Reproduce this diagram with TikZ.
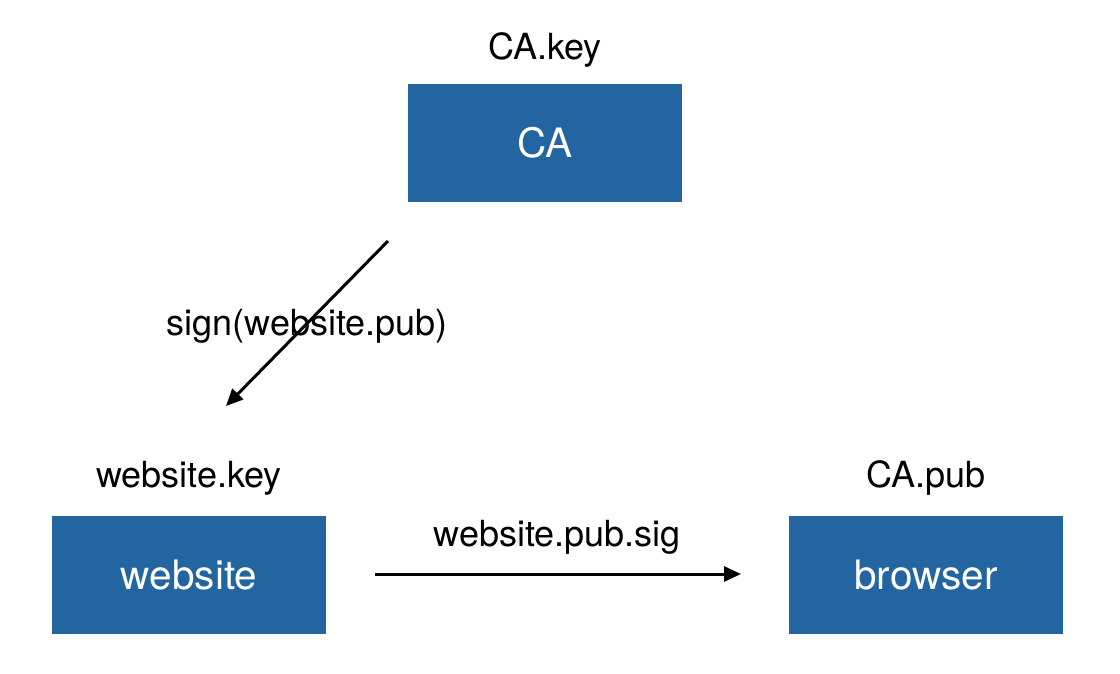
\documentclass[tikz,border=0pt]{standalone}
\usepackage{fontspec}
\setmainfont{TeX Gyre Heros}
\usepackage{tikz}
\usetikzlibrary{arrows.meta}
\definecolor{boxblue}{RGB}{35,101,161}

\begin{document}
\begin{tikzpicture}[x=1pt,y=-1pt,-{Triangle[length=17pt,width=15pt]},line width=3pt]
  \tikzstyle{party}=[fill=boxblue, text=white, minimum width=274pt, minimum height=118pt, inner sep=0pt, font=\fontsize{40.5}{46}\selectfont]
  \tikzstyle{lbl}=[font=\fontsize{36}{42}\selectfont, inner sep=0pt]
  \useasboundingbox (0,0) rectangle (1120,674);
  \node[party] (P_ca) at (545,143) {CA};
  \node[party] (P_web) at (189,575) {website};
  \node[party] (P_br) at (926,575) {browser};
  \node[lbl] (L_cakey) at (545,50) {CA.key};
  \node[lbl] (L_webkey) at (189,478) {website.key};
  \node[lbl] (L_capub) at (926,478) {CA.pub};
  \node[lbl] (L_sign) at (307,326) {sign(website.pub)};
  \node[lbl] (L_sig) at (557,537) {website.pub.sig};
  \coordinate (A_1) at (388,241);
  \coordinate (A_2) at (226,406);
  \coordinate (A_3) at (375,574);
  \coordinate (A_4) at (741,574);
  \draw (A_1) -- (A_2);
  \draw (A_3) -- (A_4);
\end{tikzpicture}
\end{document}
